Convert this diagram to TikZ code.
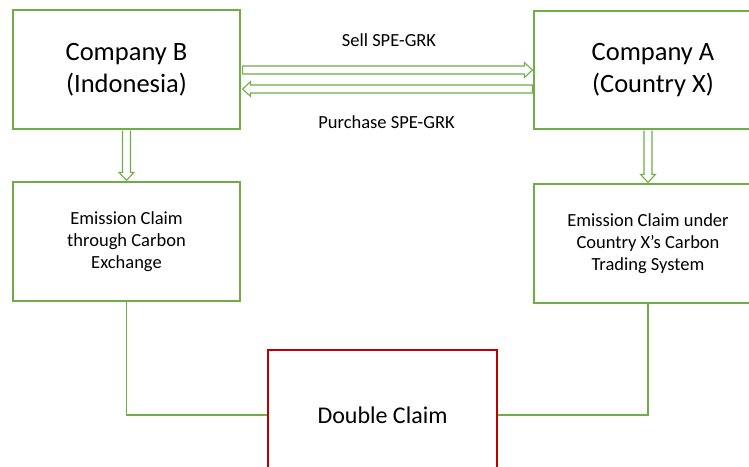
\documentclass[tikz,border=0pt]{standalone}
\usepackage{fontspec}
\setmainfont{Carlito}
\usetikzlibrary{calc}
\definecolor{grn}{HTML}{70AD47}
\definecolor{drd}{HTML}{C00000}
\tikzset{
  gbox/.style={draw=grn, line width=1.3pt, fill=white, align=center, inner sep=0pt},
  bigtxt/.style={font=\fontsize{26.5}{32.3}\selectfont},
  smalltxt/.style={font=\fontsize{18.5}{21.8}\selectfont},
  blk/.style={draw=grn, line width=1.1pt, fill=white, line join=miter},
  conn/.style={draw=grn, line width=1.3pt},
  lbl/.style={font=\fontsize{18.5}{22}\selectfont, inner sep=0pt}
}
\begin{document}
\begin{tikzpicture}[x=1pt,y=-1pt]
\useasboundingbox (0,0) rectangle (749,466);
\clip (0,0) rectangle (749,466);
\node[gbox, bigtxt, minimum width=227pt, minimum height=119pt] (B) at (126.5,69.5) {Company B\\(Indonesia)};
\node[gbox, bigtxt, minimum width=238pt, minimum height=118pt] (A) at (653,70) {Company A\\(Country X)};
\node[gbox, smalltxt, minimum width=227pt, minimum height=119pt] (E1) at (126.5,241.5) {Emission Claim\\through Carbon\\Exchange};
\node[gbox, smalltxt, minimum width=228pt, minimum height=119pt] (E2) at (648,243.5) {Emission Claim under\\Country X’s Carbon\\Trading System};
\node[draw=drd, line width=1.3pt, fill=white, inner sep=0pt, font=\fontsize{24}{29}\selectfont, minimum width=229pt, minimum height=130pt] (D) at (382.5,415) {Double Claim};

\node[lbl] (l1) at (389,40) {Sell SPE-GRK};
\node[lbl] (l2) at (386.5,122) {Purchase SPE-GRK};

% horizontal block arrows
\coordinate (s0) at ($(B.east |- 0,70)+(2,0)$);
\coordinate (s1) at ($(A.west |- 0,70)+(-1,0)$);
\draw[blk] ($(s0)+(0,-4)$) -- ($(s1)+(-8,-4)$) -- ($(s1)+(-8,-7.5)$) -- (s1) -- ($(s1)+(-8,7.5)$) -- ($(s1)+(-8,4)$) -- ($(s0)+(0,4)$) -- cycle;
\coordinate (p0) at ($(A.west |- 0,89)+(-1,0)$);
\coordinate (p1) at ($(B.east |- 0,89)+(2,0)$);
\draw[blk] ($(p0)+(0,-4)$) -- ($(p1)+(8,-4)$) -- ($(p1)+(8,-7.5)$) -- (p1) -- ($(p1)+(8,7.5)$) -- ($(p1)+(8,4)$) -- ($(p0)+(0,4)$) -- cycle;

% vertical block arrows
\coordinate (v0) at ($(B.south)+(0,1)$);
\coordinate (v1) at ($(E1.north)+(0,-1)$);
\draw[blk] ($(v0)+(-4,0)$) -- ($(v1)+(-4,-8)$) -- ($(v1)+(-7.5,-8)$) -- (v1) -- ($(v1)+(7.5,-8)$) -- ($(v1)+(4,-8)$) -- ($(v0)+(4,0)$);
\coordinate (w0) at ($(A.south -| E2.north)+(0,1)$);
\coordinate (w1) at ($(E2.north)+(0,-1)$);
\draw[blk] ($(w0)+(-4,0)$) -- ($(w1)+(-4,-8)$) -- ($(w1)+(-7.5,-8)$) -- (w1) -- ($(w1)+(7.5,-8)$) -- ($(w1)+(4,-8)$) -- ($(w0)+(4,0)$);

% connectors to Double Claim
\draw[conn] (E1.south) |- (D.west);
\draw[conn] (E2.south) |- (D.east);
\end{tikzpicture}
\end{document}
